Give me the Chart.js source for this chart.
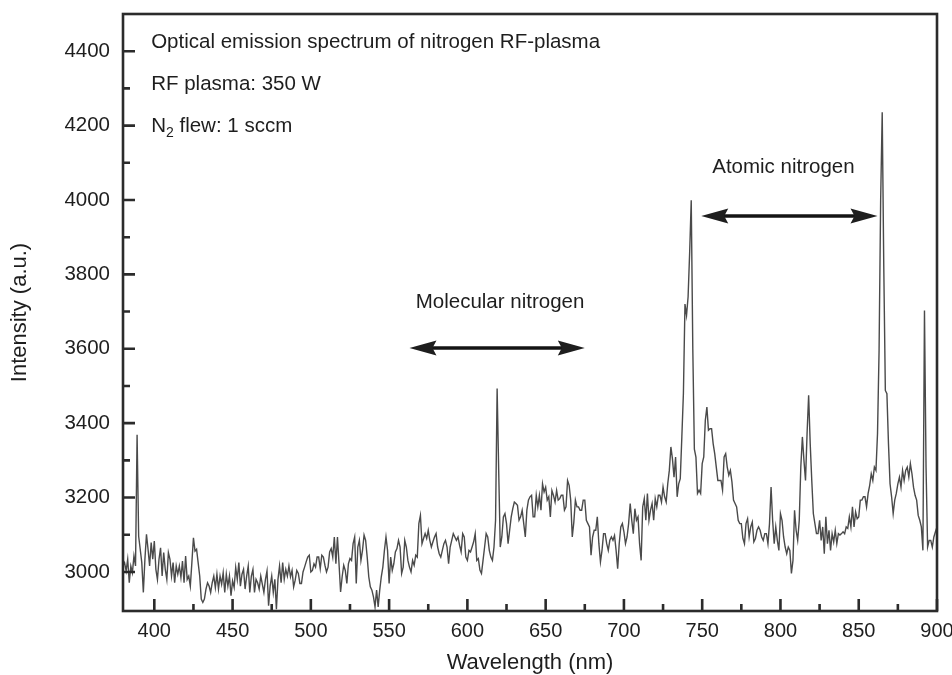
<!DOCTYPE html>
<html><head><meta charset="utf-8">
<script src="https://cdn.jsdelivr.net/npm/chart.js@4.4.1/dist/chart.umd.min.js"></script>
<style>html,body{margin:0;padding:0;background:#fff}canvas{display:block}</style>
</head><body>
<canvas id="c" width="952" height="675"></canvas>
<script>
// ---------- data ----------
const wavelengths = [
380,381,382,383,384,385,386,387,388,389,390,391,392,393,394,395,396,397,398,399,
400,401,402,403,404,405,406,407,408,409,410,411,412,413,414,415,416,417,418,419,
420,421,422,423,424,425,426,427,428,429,430,431,432,433,434,435,436,437,438,439,
440,441,442,443,444,445,446,447,448,449,450,451,452,453,454,455,456,457,458,459,
460,461,462,463,464,465,466,467,468,469,470,471,472,473,474,475,476,477,478,479,
480,481,482,483,484,485,486,487,488,489,490,491,492,493,494,495,496,497,498,499,
500,501,502,503,504,505,506,507,508,509,510,511,512,513,514,515,516,517,518,519,
520,521,522,523,524,525,526,527,528,529,530,531,532,533,534,535,536,537,538,539,
540,541,542,543,544,545,546,547,548,549,550,551,552,553,554,555,556,557,558,559,
560,561,562,563,564,565,566,567,568,569,570,571,572,573,574,575,576,577,578,579,
580,581,582,583,584,585,586,587,588,589,590,591,592,593,594,595,596,597,598,599,
600,601,602,603,604,605,606,607,608,609,610,611,612,613,614,615,616,617,618,619,
620,621,622,623,624,625,626,627,628,629,630,631,632,633,634,635,636,637,638,639,
640,641,642,643,644,645,646,647,648,649,650,651,652,653,654,655,656,657,658,659,
660,661,662,663,664,665,666,667,668,669,670,671,672,673,674,675,676,677,678,679,
680,681,682,683,684,685,686,687,688,689,690,691,692,693,694,695,696,697,698,699,
700,701,702,703,704,705,706,707,708,709,710,711,712,713,714,715,716,717,718,719,
720,721,722,723,724,725,726,727,728,729,730,731,732,733,734,735,736,737,738,739,
740,741,742,743,744,745,746,747,748,749,750,751,752,753,754,755,756,757,758,759,
760,761,762,763,764,765,766,767,768,769,770,771,772,773,774,775,776,777,778,779,
780,781,782,783,784,785,786,787,788,789,790,791,792,793,794,795,796,797,798,799,
800,801,802,803,804,805,806,807,808,809,810,811,812,813,814,815,816,817,818,819,
820,821,822,823,824,825,826,827,828,829,830,831,832,833,834,835,836,837,838,839,
840,841,842,843,844,845,846,847,848,849,850,851,852,853,854,855,856,857,858,859,
860,861,862,863,864,865,866,867,868,869,870,871,872,873,874,875,876,877,878,879,
880,881,882,883,884,885,886,887,888,889,890,891,892,893,894,895,896,897,898,899,
900];

const intensity = [
3016,3025,3003,3034,2971,3016,2998,3043,3016,3369, 3096,3061,3025,2945,3034,3101,3061,3016,3079,3034,
3083,3007,2980,3034,3065,2989,3052,3007,2980,3052, 3034,2989,3025,2971,3016,2994,3016,2985,3029,2971,
3043,2980,2989,2962,3025,3092,3056,3061,3025,2989, 2927,2918,2927,2954,2971,2962,2945,2971,2989,2958,
2994,2954,2989,2967,2998,2945,2994,2962,2989,2936, 2976,2958,3012,2980,3025,2962,2994,3007,2954,2989,
3016,2945,2989,3007,2945,2980,2971,2954,2989,2967, 2945,2980,3003,2909,2962,2989,2945,2980,2900,2980,
3016,2971,3025,2980,3007,2989,3016,2987,3004,2960, 2978,3004,2996,2969,2969,3000,3013,3027,3040,3045,
3000,3004,3022,3013,3040,3040,3009,3045,3040,3018, 3000,3013,3054,3063,3040,3094,3022,3094,3022,2946,
2987,3018,3004,2969,3022,3036,3031,3076,3094,2969, 3067,3085,3031,3058,3099,3085,3040,2987,2960,2951,
2933,2906,2951,2906,2951,2987,3013,3058,3094,3058, 2969,3040,3004,3022,3054,3063,3085,3067,2996,3013,
3085,3067,3031,3013,3000,3031,3018,3045,3040,3130, 3152,3076,3090,3103,3090,3112,3085,3067,3081,3094,
3103,3067,3049,3040,3058,3076,3085,3067,3022,3067, 3085,3103,3094,3085,3094,3072,3054,3103,3094,3040,
3031,3058,3054,3067,3081,3103,3031,3036,3005,2996, 3031,3067,3103,3094,3058,3040,3031,3067,3139,3493,
3273,3067,3094,3148,3157,3130,3076,3112,3148,3170, 3188,3184,3179,3139,3148,3166,3130,3094,3166,3193,
3202,3206,3148,3148,3206,3175,3206,3166,3237,3215, 3228,3193,3202,3148,3219,3206,3188,3219,3193,3197,
3206,3206,3166,3175,3246,3233,3193,3094,3134,3193, 3175,3175,3166,3166,3193,3193,3139,3130,3121,3045,
3094,3112,3112,3148,3076,3027,3058,3103,3103,3076, 3058,3085,3094,3085,3098,3058,3009,3076,3121,3130,
3108,3076,3094,3130,3184,3139,3103,3170,3139,3148, 3076,3031,3175,3197,3139,3211,3139,3166,3184,3139,
3197,3175,3206,3206,3188,3228,3202,3188,3237,3273, 3336,3304,3255,3309,3202,3237,3251,3363,3480,3720,
3690,3740,3860,3999,3600,3330,3309,3211,3220,3211, 3291,3309,3408,3443,3381,3385,3385,3345,3318,3282,
3246,3246,3246,3220,3309,3318,3282,3260,3273,3242, 3193,3184,3175,3139,3130,3130,3090,3076,3130,3143,
3094,3121,3134,3081,3090,3112,3121,3112,3094,3085, 3103,3103,3076,3130,3228,3139,3076,3121,3085,3058,
3157,3139,3094,3067,3049,3067,3058,2996,3031,3166, 3112,3085,3139,3282,3363,3300,3246,3372,3475,3345,
3246,3157,3130,3103,3103,3139,3085,3121,3049,3148, 3076,3112,3058,3103,3081,3112,3076,3103,3099,3103,
3108,3103,3121,3117,3148,3121,3175,3121,3161,3143, 3148,3193,3193,3202,3202,3175,3211,3233,3264,3246,
3282,3273,3372,3596,3999,4236,3820,3488,3479,3345, 3237,3202,3157,3193,3211,3237,3255,3228,3273,3246,
3273,3282,3255,3291,3264,3228,3206,3193,3152,3139, 3121,3058,3703,3282,3067,3085,3085,3067,3094,3108,
3121];

const xTickValues = [400,450,500,550,600,650,700,750,800,850,900];
const xMinorTicks = [425,475,525,575,625,675,725,775,825,875];
const yTickValues = [3000,3200,3400,3600,3800,4000,4200,4400];
const yMinorTicks = [3100,3300,3500,3700,3900,4100,4300];

const infoLines = ['Optical emission spectrum of nitrogen RF-plasma', 'RF plasma: 350 W', 'N|2| flew: 1 sccm'];
const regionLabels = ['Molecular nitrogen', 'Atomic nitrogen'];

// ---------- placement (data coordinates) ----------
const infoPlace = {x: 398, y: [4423, 4310, 4198]};
const regionPlace = [
  {tx: 567, ty: 3725, x1: 563, x2: 675, y: 3602},
  {tx: 756.4, ty: 4088, x1: 749.4, x2: 862, y: 3957}
];

const FONT = 'Arial, "Liberation Sans", "Noto Sans CJK SC", sans-serif';
const INK = '#1e1e1e';

const framePlugin = {
  id: 'frameTicks',
  afterDraw(chart) {
    const {ctx, chartArea: a, scales: {x, y}} = chart;
    ctx.save();
    ctx.strokeStyle = '#2b2b2b';
    ctx.lineWidth = 2.6;
    ctx.strokeRect(a.left, a.top, a.right - a.left, a.bottom - a.top);
    ctx.beginPath();
    xTickValues.forEach(v => { const p = x.getPixelForValue(v); ctx.moveTo(p, a.bottom); ctx.lineTo(p, a.bottom - 12); });
    xMinorTicks.forEach(v => { const p = x.getPixelForValue(v); ctx.moveTo(p, a.bottom); ctx.lineTo(p, a.bottom - 7); });
    yTickValues.forEach(v => { const p = y.getPixelForValue(v); ctx.moveTo(a.left, p); ctx.lineTo(a.left + 12, p); });
    yMinorTicks.forEach(v => { const p = y.getPixelForValue(v); ctx.moveTo(a.left, p); ctx.lineTo(a.left + 7, p); });
    ctx.stroke();
    ctx.restore();
  }
};

function arrow(ctx, x1, x2, yy) {
  const hl = 27, hw = 7.5, notch = 23;
  ctx.lineWidth = 3.6;
  ctx.beginPath();
  ctx.moveTo(x1 + notch - 2, yy); ctx.lineTo(x2 - notch + 2, yy);
  ctx.stroke();
  ctx.beginPath();
  ctx.moveTo(x1, yy); ctx.lineTo(x1 + hl, yy - hw); ctx.lineTo(x1 + notch, yy); ctx.lineTo(x1 + hl, yy + hw); ctx.closePath();
  ctx.moveTo(x2, yy); ctx.lineTo(x2 - hl, yy - hw); ctx.lineTo(x2 - notch, yy); ctx.lineTo(x2 - hl, yy + hw); ctx.closePath();
  ctx.fill();
}

const annotPlugin = {
  id: 'annot',
  afterDatasetsDraw(chart) {
    const {ctx, scales: {x, y}} = chart;
    ctx.save();
    ctx.fillStyle = INK; ctx.strokeStyle = '#141414';
    ctx.textBaseline = 'middle'; ctx.textAlign = 'left';
    const big = '20.5px ' + FONT, small = '14px ' + FONT;
    infoLines.forEach((t, i) => {
      let px = x.getPixelForValue(infoPlace.x);
      const py = y.getPixelForValue(infoPlace.y[i]);
      const parts = t.split('|');
      parts.forEach((s, k) => {
        const sub = k % 2 === 1;
        ctx.font = sub ? small : big;
        ctx.fillText(s, px, sub ? py + 7 : py);
        px += ctx.measureText(s).width;
      });
    });
    ctx.font = big;
    regionLabels.forEach((t, i) => {
      const r = regionPlace[i];
      ctx.fillText(t, x.getPixelForValue(r.tx), y.getPixelForValue(r.ty));
      arrow(ctx, x.getPixelForValue(r.x1), x.getPixelForValue(r.x2), y.getPixelForValue(r.y));
    });
    ctx.restore();
  }
};

new Chart(document.getElementById('c'), {
  type: 'line',
  data: {
    datasets: [{
      data: wavelengths.map((w, i) => ({x: w, y: intensity[i]})),
      borderColor: '#4a4a4a', borderWidth: 1.4, pointRadius: 0, tension: 0, fill: false
    }]
  },
  options: {
    responsive: false, animation: false, devicePixelRatio: 1,
    layout: {padding: {top: 14, right: 15, left: 0, bottom: 0}},
    plugins: {legend: {display: false}, tooltip: {enabled: false}},
    scales: {
      x: {
        type: 'linear', min: 380, max: 900,
        grid: {display: false, drawTicks: false}, border: {display: false},
        afterBuildTicks(s) { s.ticks = xTickValues.map(v => ({value: v})); },
        afterFit(s) { s.height = 64; s.paddingLeft = 0; s.paddingRight = 0; },
        ticks: {font: {size: 20, family: FONT}, color: INK, padding: 8, maxRotation: 0, autoSkip: false,
                callback: v => String(v)},
        title: {display: true, text: 'Wavelength (nm)', font: {size: 22, family: FONT}, color: INK, padding: {top: 0, bottom: -1}}
      },
      y: {
        type: 'linear', min: 2895, max: 4500,
        grid: {display: false, drawTicks: false}, border: {display: false},
        afterBuildTicks(s) { s.ticks = yTickValues.map(v => ({value: v})); },
        afterFit(s) { s.width = 123; s.paddingTop = 0; s.paddingBottom = 0; },
        ticks: {font: {size: 20.5, family: FONT}, color: INK, padding: 13, autoSkip: false,
                callback: v => String(v)},
        title: {display: true, text: 'Intensity (a.u.)', font: {size: 22, family: FONT}, color: INK, padding: {top: 7, bottom: 0}}
      }
    }
  },
  plugins: [framePlugin, annotPlugin]
});
</script>
</body></html>
